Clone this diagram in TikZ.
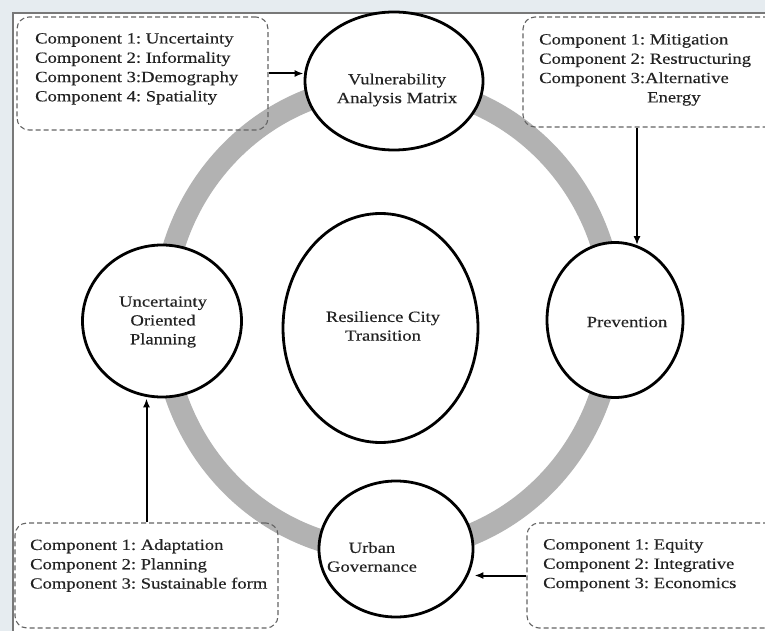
\documentclass[tikz,border=0pt]{standalone}
\usepackage{fontspec}
\setmainfont[FakeStretch=1.2,FakeBold=0.3]{Liberation Serif}
\usetikzlibrary{shapes.geometric,arrows.meta}
\definecolor{bgblue}{RGB}{230,236,240}
\definecolor{ringgray}{RGB}{178,178,178}
\definecolor{framegray}{RGB}{120,120,120}
\definecolor{boxgray}{RGB}{100,100,100}
\definecolor{txtgray}{RGB}{35,35,35}

\begin{document}
\frenchspacing
\begin{tikzpicture}[x=1pt,y=1pt,yscale=-1,xscale=1,
    stage/.style={ellipse, draw=black, line width=2.8pt, fill=white, inner sep=0pt},
    stagetext/.style={inner sep=0pt, align=center, text=txtgray, font=\fontsize{15.5}{18.8}\selectfont},
    compbox/.style={draw=boxgray, line width=1.1pt, dash pattern=on 5pt off 3pt, rounded corners=12pt, inner sep=0pt},
    comptext/.style={anchor=north west, inner sep=0pt, align=left, text=txtgray, font=\fontsize{15.5}{19.3}\selectfont},
    feed/.style={-{Latex[length=9pt,width=7pt]}, line width=2pt}]
    \useasboundingbox (0,0) rectangle (765,631);

    %Shape: Frame
    \fill[bgblue] (0,0) rectangle (765,631);
    \draw[framegray, line width=1.5pt, fill=white] (13,13) rectangle (790,650);

    %Shape: Ring
    \draw[ringgray, line width=22pt] (388,318) ellipse [x radius=225, y radius=233];

    %Shape: Ellipse
    \node[stage, minimum width=178, minimum height=138] (vul) at (394,81) {};
    %Shape: Ellipse
    \node[stage, minimum width=136, minimum height=155] (prev) at (615,320) {};
    %Shape: Ellipse
    \node[stage, minimum width=159, minimum height=152] (unc) at (162,321) {};
    %Shape: Ellipse
    \node[stage, minimum width=154, minimum height=136] (urban) at (396,549) {};
    %Shape: Ellipse
    \node[stage, minimum width=195, minimum height=229] (core) at (380.5,328) {};

    % Text Node
    \node[stagetext] (vullabel) at (397,90) {Vulnerability\\Analysis Matrix};
    % Text Node
    \node[stagetext] (prevlabel) at (627,322) {Prevention};
    % Text Node
    \node[stagetext] (unclabel) at (163,322) {Uncertainty\\Oriented\\Planning};
    % Text Node
    \node[stagetext] (urbanlabel) at (372,557) {Urban\\Governance};
    % Text Node
    \node[stagetext] (corelabel) at (383,326) {Resilience City\\Transition};

    %Shape: Rounded Rect
    \node[compbox, minimum width=251, minimum height=113] (vulbox) at (142.5,73.5) {};
    %Shape: Rounded Rect
    \node[compbox, minimum width=257, minimum height=110] (prevbox) at (651.5,72) {};
    %Shape: Rounded Rect
    \node[compbox, minimum width=263, minimum height=105] (uncbox) at (146.5,575.5) {};
    %Shape: Rounded Rect
    \node[compbox, minimum width=253, minimum height=105] (urbanbox) at (653.5,575.5) {};

    % Text Node
    \node[comptext] (vultext) at (35,33) {Component 1: Uncertainty\\Component 2: Informality\\Component 3:Demography\\Component 4: Spatiality};
    % Text Node
    \node[comptext] (prevtext) at (539,34) {Component 1: Mitigation\\Component 2: Restructuring\\Component 3:Alternative\\\hspace*{108pt}Energy};
    % Text Node
    \node[comptext] (unctext) at (30,539) {Component 1: Adaptation\\Component 2: Planning\\Component 3: Sustainable form};
    % Text Node
    \node[comptext] (urbantext) at (543,539) {Component 1: Equity\\Component 2: Integrative\\Component 3: Economics};

    %Straight Lines
    \draw[feed] (vulbox.east) -- (vulbox.east -| vul.west);
    \coordinate (prevfoot) at ([xshift=-14.5pt]prevbox.south);
    \draw[feed, shorten >=-4pt] (prevfoot) -- (prevfoot |- prev.north);
    \draw[feed] (uncbox.north) -- (uncbox.north |- unc.south);
    \draw[feed] (urbanbox.west) -- (urbanbox.west -| urban.east);
\end{tikzpicture}
\end{document}
